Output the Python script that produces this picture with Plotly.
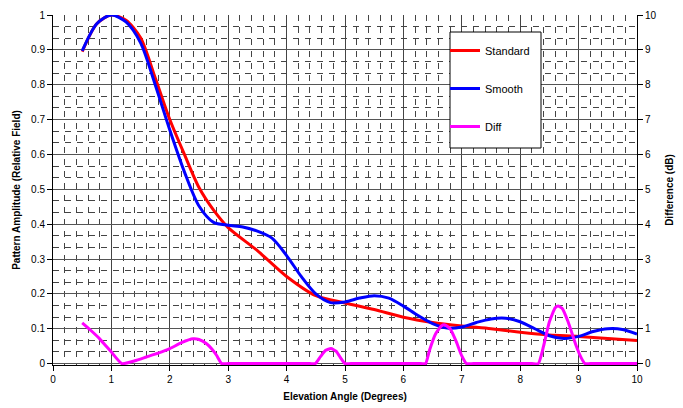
import plotly.graph_objects as go

# Elevation angle samples (degrees)
x_std = [0.5, 0.75, 1.0, 1.25, 1.5, 1.75, 2.0, 2.25, 2.5, 2.75, 3.0, 3.5, 4.0, 4.5,
         5.0, 5.5, 6.0, 6.5, 7.0, 7.5, 8.0, 8.5, 9.0, 9.5, 10.0]
standard = [0.895, 0.975, 1.0, 0.985, 0.935, 0.82, 0.70, 0.60, 0.505, 0.44, 0.39, 0.324,
            0.25, 0.195, 0.174, 0.155, 0.133, 0.118, 0.108, 0.10, 0.09, 0.082, 0.078, 0.072, 0.066]

x_smooth = [0.5, 0.75, 1.0, 1.25, 1.5, 1.75, 2.0, 2.25, 2.5, 2.75, 3.0, 3.25, 3.5, 3.75,
            4.0, 4.25, 4.5, 4.75, 5.0, 5.25, 5.5, 5.75, 6.0, 6.25, 6.5, 6.75, 7.0, 7.25,
            7.5, 7.75, 8.0, 8.25, 8.5, 8.75, 9.0, 9.25, 9.5, 9.75, 10.0]
smooth = [0.897, 0.975, 1.0, 0.98, 0.92, 0.80, 0.67, 0.55, 0.452, 0.405, 0.397, 0.392,
          0.38, 0.36, 0.31, 0.25, 0.20, 0.175, 0.177, 0.188, 0.195, 0.188, 0.165, 0.138,
          0.115, 0.102, 0.105, 0.118, 0.128, 0.13, 0.12, 0.10, 0.08, 0.072, 0.078, 0.092,
          0.10, 0.098, 0.085]

x_diff = [0.5, 0.65, 0.8, 0.9, 1.0, 1.18, 1.4, 1.6, 1.8, 2.0, 2.2, 2.4, 2.5, 2.63, 2.72,
          2.8, 2.89, 3.0, 4.4, 4.49, 4.58, 4.67, 4.76, 4.85, 4.93, 5.0, 5.1, 6.3, 6.38,
          6.45, 6.55, 6.65, 6.71, 6.8, 6.9, 7.0, 7.08, 7.2, 8.2, 8.31, 8.4, 8.5, 8.6,
          8.65, 8.72, 8.82, 8.95, 9.05, 9.11, 9.2, 10.0]
diff = [1.17, 0.95, 0.71, 0.52, 0.33, 0.0, 0.08, 0.19, 0.30, 0.43, 0.60, 0.71, 0.69, 0.57,
        0.42, 0.24, 0.0, 0.0, 0.0, 0.0, 0.20, 0.38, 0.43, 0.35, 0.15, 0.0, 0.0, 0.0, 0.0,
        0.40, 0.85, 1.08, 1.11, 1.0, 0.65, 0.22, 0.0, 0.0, 0.0, 0.0, 0.5, 1.2, 1.6, 1.65,
        1.58, 1.2, 0.55, 0.15, 0.0, 0.0, 0.0]

x_ticks = list(range(0, 11))
y_ticks = [0, 0.1, 0.2, 0.3, 0.4, 0.5, 0.6, 0.7, 0.8, 0.9, 1]
y2_ticks = list(range(0, 11))

FONT = "Liberation Sans, Arial, sans-serif"

fig = go.Figure()
fig.add_trace(go.Scatter(x=x_std, y=standard, name="Standard", mode="lines",
                         line=dict(color="#FF0000", width=3, shape="spline", smoothing=0.8),
                         legendgroup="a"))
fig.add_trace(go.Scatter(x=x_smooth, y=smooth, name="Smooth", mode="lines",
                         line=dict(color="#0000FF", width=3, shape="spline", smoothing=0.8),
                         legendgroup="b"))
fig.add_trace(go.Scatter(x=x_diff, y=diff, name="Diff", mode="lines", yaxis="y2",
                         line=dict(color="#FF00FF", width=3, shape="spline", smoothing=0.5),
                         legendgroup="c"))

grid_minor = dict(showgrid=True, gridcolor="#444444", gridwidth=1, griddash="6px,6px",
                  ticklen=0)

# legend frame (white box with black border)
fig.add_shape(type="rect", xref="paper", yref="paper",
              x0=(450 - 53) / 584, x1=(541 - 53) / 584,
              y0=(365 - 148) / 350, y1=(365 - 32) / 350,
              fillcolor="white", line=dict(color="black", width=1), layer="above")

fig.update_layout(
    width=683, height=408,
    margin=dict(l=53, r=46, t=15, b=43, autoexpand=False),
    paper_bgcolor="white", plot_bgcolor="white",
    font=dict(family=FONT, size=10, color="black"),
    xaxis=dict(range=[0, 10], tickvals=x_ticks, ticks="outside", ticklen=5,
               tickcolor="black", showline=True, linecolor="black", linewidth=1,
               showgrid=True, gridcolor="#444444", gridwidth=1, zeroline=False,
               automargin=False,
               minor=dict(dtick=0.2, **grid_minor),
               title=dict(text="<b>Elevation Angle (Degrees)</b>", font=dict(size=10),
                          standoff=8)),
    yaxis=dict(range=[-0.004, 1], tickvals=y_ticks, ticks="outside", ticklen=5,
               tickcolor="black", showline=True, linecolor="black", linewidth=1,
               showgrid=True, gridcolor="#555555", gridwidth=1, zeroline=False,
               automargin=False,
               minor=dict(dtick=0.1 / 3, tick0=0, **grid_minor),
               title=dict(text="<b>Pattern Amplitude (Relative Field)</b>",
                          font=dict(size=10), standoff=8)),
    yaxis2=dict(range=[-0.04, 10], tickvals=y2_ticks, overlaying="y", side="right",
                ticks="outside", ticklen=5, tickcolor="black", showline=True,
                linecolor="black", linewidth=1, showgrid=False, zeroline=False,
                automargin=False,
                title=dict(text="<b>Difference (dB)</b>", font=dict(size=10), standoff=10)),
    legend=dict(x=(445 - 53) / 584, y=(365 - 36) / 350, xanchor="left", yanchor="top",
                bgcolor="rgba(0,0,0,0)", borderwidth=0, traceorder="grouped",
                tracegroupgap=19, font=dict(size=11), itemwidth=30),
    showlegend=True,
)

fig.write_html("out.html", config={"displayModeBar": False},
               post_script="document.body.style.margin='0';")
